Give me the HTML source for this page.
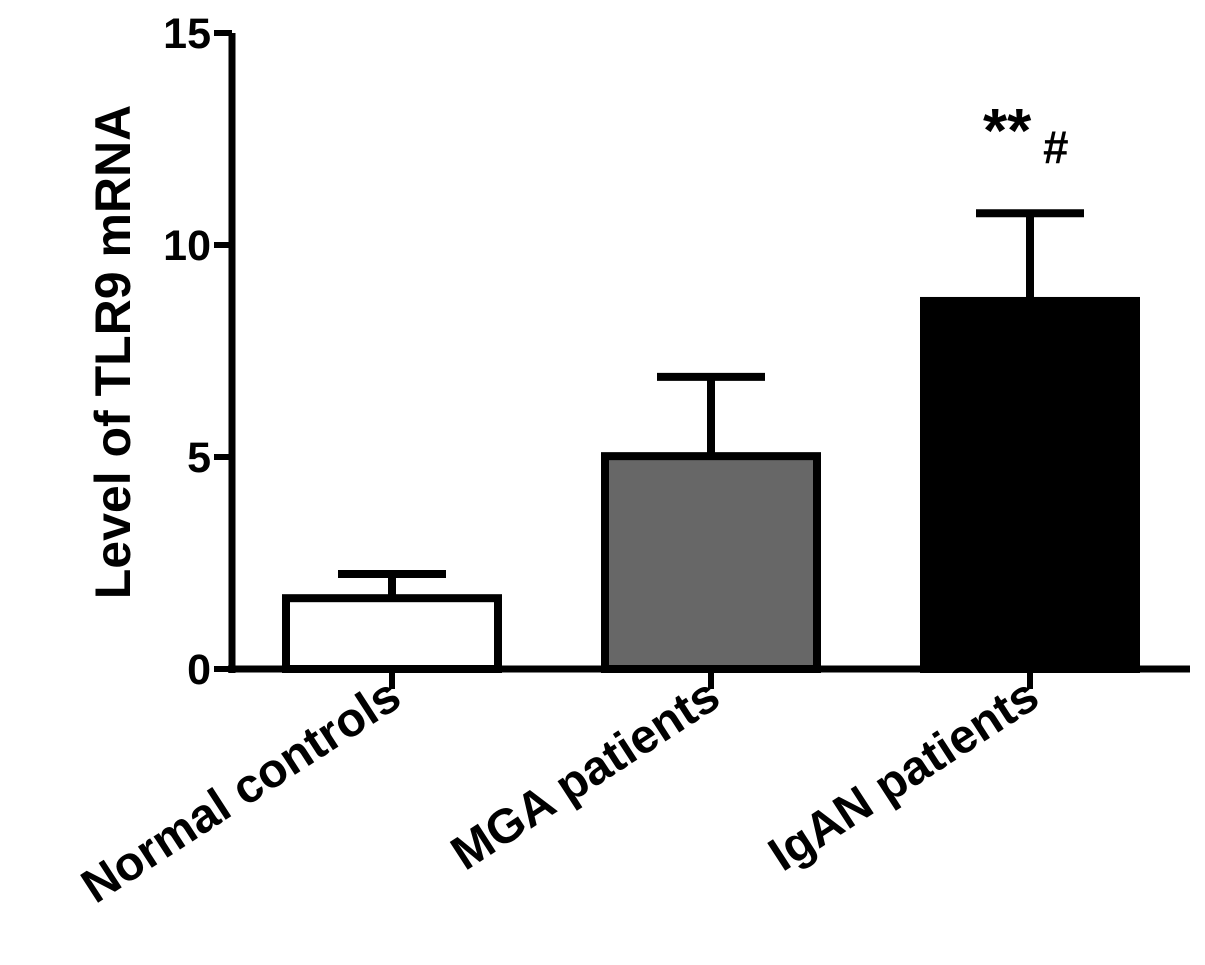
<!DOCTYPE html>
<html><head><meta charset="utf-8"><style>
body{margin:0;background:#fff;}
svg{display:block;font-family:"Liberation Sans",Arial,sans-serif;font-weight:bold;}
</style></head><body>
<svg id="chart" width="1205" height="965" viewBox="0 0 1205 965">
<g id="axes"></g><g id="bars"></g>
<text transform="translate(130,352) rotate(-90)" text-anchor="middle" font-size="50">Level of TLR9 mRNA</text>
<g>
<text x="983" y="152" font-size="62">**</text>
<text x="1043" y="163" font-size="46">#</text>
</g>
</svg>
<script>
const categories=["Normal controls","MGA patients","IgAN patients"];
const means=[1.67,5.02,8.68];
const errors=[0.57,1.87,2.07];
const yTicks=[0,5,10,15];
const fills=["#ffffff","#676767","#000000"];
const NS="http://www.w3.org/2000/svg";
const y0=669,yTop=33,yMax=15,xL=232,xR=1190;
const centers=[392,711,1030],bw=212;
function y(v){return y0-(y0-yTop)*v/yMax;}
function mk(tag,attrs,parent){const e=document.createElementNS(NS,tag);for(const k in attrs)e.setAttribute(k,attrs[k]);parent.appendChild(e);return e;}
const axes=document.getElementById('axes'),bars=document.getElementById('bars');
let l=mk('line',{x1:xL,y1:yTop,x2:xL,y2:y0+4,stroke:'#000','stroke-width':7},axes);


l=mk('line',{x1:xL-4,y1:y0,x2:xR,y2:y0,stroke:'#000','stroke-width':7},axes);


yTicks.forEach(t=>{
 const tk=mk('line',{x1:214,y1:y(t),x2:xL,y2:y(t),stroke:'#000','stroke-width':6},axes);
 
 
 const tx=mk('text',{x:211,y:y(t)+15,'text-anchor':'end','font-size':43},axes);
 tx.textContent=t;
 
 
});
categories.forEach((c,i)=>{
 const cx=centers[i];
 const tk=mk('line',{x1:cx,y1:y0,x2:cx,y2:689,stroke:'#000','stroke-width':6},axes);
 
 
 const eb=mk('path',{d:`M${cx},${y(means[i])} V${y(means[i]+errors[i])} M${cx-54},${y(means[i]+errors[i])} H${cx+54}`,stroke:'#000','stroke-width':8,fill:'none'},bars);
 
 
 const r=mk('rect',{x:cx-bw/2,y:y(means[i]),width:bw,height:y0-y(means[i]),fill:fills[i],stroke:'#000','stroke-width':8},bars);
 
 
 const tx=mk('text',{transform:`translate(${cx+12},${704}) rotate(-33)`,'text-anchor':'end','font-size':48},axes);
 tx.textContent=c;
 
 
});
</script>
</body></html>
